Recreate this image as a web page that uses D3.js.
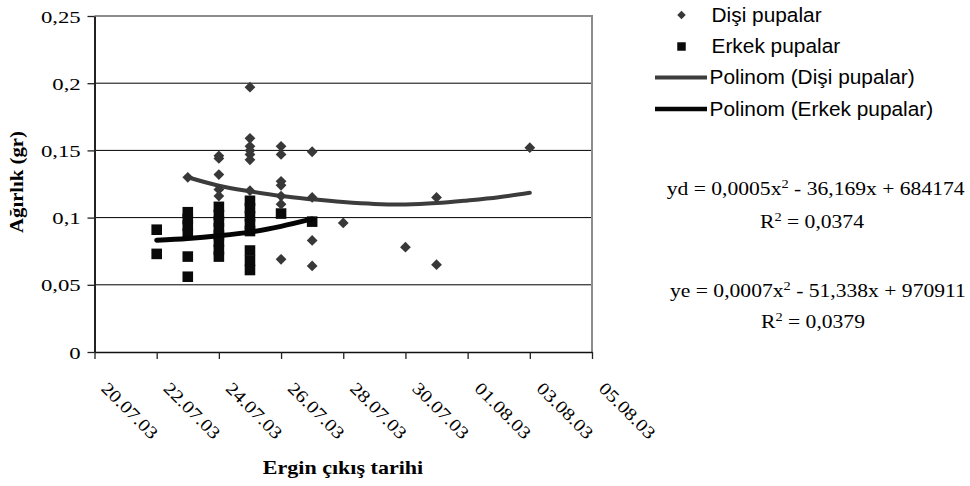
<!DOCTYPE html>
<html><head><meta charset="utf-8">
<script src="https://cdn.jsdelivr.net/npm/d3@7"></script>
<style>body{margin:0;background:#fff}svg{display:block}</style>
</head><body>
<script>
// ---------- data ----------
const xTickDates = ["2003-07-20","2003-07-22","2003-07-24","2003-07-26","2003-07-28","2003-07-30","2003-08-01","2003-08-03","2003-08-05"];
const yTicks = [0, 0.05, 0.1, 0.15, 0.2, 0.25];

const disiDates = [
  "2003-07-23",
  "2003-07-24","2003-07-24","2003-07-24","2003-07-24","2003-07-24",
  "2003-07-25","2003-07-25","2003-07-25","2003-07-25","2003-07-25","2003-07-25","2003-07-25",
  "2003-07-26","2003-07-26","2003-07-26","2003-07-26","2003-07-26","2003-07-26","2003-07-26",
  "2003-07-27","2003-07-27","2003-07-27","2003-07-27",
  "2003-07-28","2003-07-30","2003-07-31","2003-07-31","2003-08-03"];
const disiValues = [
  0.130,
  0.146, 0.144, 0.132, 0.121, 0.116,
  0.197, 0.159, 0.153, 0.150, 0.147, 0.143, 0.120,
  0.153, 0.147, 0.127, 0.124, 0.116, 0.110, 0.069,
  0.149, 0.115, 0.083, 0.064,
  0.096, 0.078, 0.115, 0.065, 0.152];

const erkekDates = [
  "2003-07-22","2003-07-22",
  "2003-07-23","2003-07-23","2003-07-23","2003-07-23","2003-07-23","2003-07-23",
  "2003-07-24","2003-07-24","2003-07-24","2003-07-24","2003-07-24","2003-07-24","2003-07-24","2003-07-24",
  "2003-07-25","2003-07-25","2003-07-25","2003-07-25","2003-07-25","2003-07-25","2003-07-25","2003-07-25",
  "2003-07-26","2003-07-27"];
const erkekValues = [
  0.091, 0.073,
  0.104, 0.099, 0.094, 0.088, 0.071, 0.056,
  0.108, 0.102, 0.097, 0.092, 0.087, 0.082, 0.076, 0.071,
  0.1125, 0.107, 0.101, 0.095, 0.090, 0.0755, 0.068, 0.061,
  0.103, 0.097];

const disiTrendDates = ["2003-07-23","2003-07-24","2003-07-25","2003-07-26","2003-07-27","2003-07-28","2003-07-29","2003-07-30","2003-07-31","2003-08-01","2003-08-02","2003-08-03"];
const disiTrendValues = [0.130, 0.1237, 0.1195, 0.1160, 0.1136, 0.1116, 0.1102, 0.1098, 0.1108, 0.1128, 0.1152, 0.1185];
const erkekTrendDates = ["2003-07-22","2003-07-23","2003-07-24","2003-07-25","2003-07-26","2003-07-27"];
const erkekTrendValues = [0.0832, 0.0845, 0.0865, 0.0892, 0.0935, 0.0990];

const legendLabels = ["Dişi pupalar", "Erkek pupalar", "Polinom (Dişi pupalar)", "Polinom (Erkek pupalar)"];
const eqDisi = ["yd = 0,0005x", "2", " - 36,169x + 684174"];
const eqErkek = ["ye = 0,0007x", "2", " - 51,338x + 970911"];
const r2Disi = "0,0374";
const r2Erkek = "0,0379";
const xTitle = "Ergin çıkış tarihi";
const yTitle = "Ağırlık (gr)";

// ---------- chart ----------
const W = 970, H = 486;
const plot = {left: 94.5, right: 592, top: 16, bottom: 352};
const parse = d3.utcParse("%Y-%m-%d");
const serif = "'Liberation Serif','Times New Roman',serif";
const sans = "'Liberation Sans',Arial,sans-serif";

const svg = d3.select("body").append("svg").attr("width", W).attr("height", H);

const x = d3.scaleUtc()
  .domain([parse(xTickDates[0]), parse(xTickDates[xTickDates.length - 1])])
  .range([plot.left, plot.right]);
const y = d3.scaleLinear().domain([0, 0.25]).range([plot.bottom, plot.top]);

// gridlines
svg.append("g").selectAll("line").data(yTicks.filter(d => d > 0 && d < 0.25)).join("line")
  .attr("x1", plot.left).attr("x2", plot.right)
  .attr("y1", d => y(d)).attr("y2", d => y(d))
  .attr("stroke", "#000").attr("stroke-width", 1);

// plot border (top / right)
svg.append("path")
  .attr("d", `M${plot.left},${plot.top}H${plot.right}V${plot.bottom}`)
  .attr("fill", "none").attr("stroke", "#8c8c8c").attr("stroke-width", 2);

// axes
const locale = d3.formatLocale({decimal: ",", thousands: ".", grouping: [3], currency: ["", ""]});
const yFmt = locale.format(".2~f");
const yAxis = svg.append("g").attr("transform", `translate(${plot.left},0)`)
  .call(d3.axisLeft(y).tickValues(yTicks).tickFormat(yFmt).tickSize(7).tickSizeOuter(0));
yAxis.select(".domain").attr("stroke", "#222").attr("stroke-width", 2);
yAxis.selectAll(".tick line").attr("stroke", "#222").attr("stroke-width", 1.3);
yAxis.selectAll(".tick text")
  .attr("x", null).attr("dy", null)
  .attr("transform", "translate(-13.8,6) scale(1.3,1)")
  .attr("font-family", serif).attr("font-size", 17.5).attr("fill", "#000")
  .attr("text-anchor", "end");

const xFmt = d3.utcFormat("%d.%m.%y");
const xAxis = svg.append("g").attr("transform", `translate(0,${plot.bottom})`)
  .call(d3.axisBottom(x).tickValues(xTickDates.map(parse)).tickFormat(xFmt).tickSize(7).tickSizeOuter(0));
xAxis.select(".domain").attr("stroke", "#111").attr("stroke-width", 1.6);
xAxis.selectAll(".tick line").attr("stroke", "#222").attr("stroke-width", 1.3);
xAxis.selectAll(".tick text")
  .attr("y", null).attr("dy", null)
  .attr("transform", "translate(5.3,37.5) rotate(45) scale(1.17,1)")
  .attr("font-family", serif).attr("font-size", 17.5).attr("fill", "#000")
  .attr("text-anchor", "start");

// trend lines
const line = d3.line().curve(d3.curveCatmullRom.alpha(0.5)).x(d => x(d[0])).y(d => y(d[1]));
svg.append("path")
  .datum(disiTrendDates.map((d, i) => [parse(d), disiTrendValues[i]]))
  .attr("d", line).attr("fill", "none").attr("stroke", "#3c3c3c").attr("stroke-width", 4)
  .attr("stroke-linecap", "round");

// points
const sqSym = d3.symbol().type(d3.symbolSquare);
svg.append("g").selectAll("path").data(erkekDates.map((d, i) => [parse(d), erkekValues[i]])).join("path")
  .attr("d", sqSym.size(112)())
  .attr("transform", d => `translate(${x(d[0])},${y(d[1])})`)
  .attr("fill", "#0a0a0a");

svg.append("path")
  .datum(erkekTrendDates.map((d, i) => [parse(d), erkekTrendValues[i]]))
  .attr("d", line).attr("fill", "none").attr("stroke", "#050505").attr("stroke-width", 5)
  .attr("stroke-linecap", "round");

svg.append("g").selectAll("path").data(disiDates.map((d, i) => [parse(d), disiValues[i]])).join("path")
  .attr("d", d3.symbol().type(d3.symbolSquare).size(58)())
  .attr("transform", d => `translate(${x(d[0])},${y(d[1])}) rotate(45)`)
  .attr("fill", "#383838");

// axis titles
svg.append("text")
  .attr("transform", "translate(343,473.5) scale(1.16,1)")
  .attr("text-anchor", "middle").attr("font-family", serif).attr("font-weight", "bold")
  .attr("font-size", 19).text(xTitle);
svg.append("text")
  .attr("transform", "translate(23,182) rotate(-90) scale(1.12,1)")
  .attr("text-anchor", "middle").attr("font-family", serif).attr("font-weight", "bold")
  .attr("font-size", 18.5).text(yTitle);

// legend
const lg = svg.append("g");
const legY = [15, 46.5, 77.5, 109];
lg.append("path").attr("d", d3.symbol().type(d3.symbolSquare).size(36)())
  .attr("transform", `translate(681.5,${legY[0]}) rotate(45)`).attr("fill", "#383838");
lg.append("path").attr("d", d3.symbol().type(d3.symbolSquare).size(72)())
  .attr("transform", `translate(681.5,${legY[1]})`).attr("fill", "#0a0a0a");
lg.append("line").attr("x1", 655).attr("x2", 707).attr("y1", legY[2]).attr("y2", legY[2])
  .attr("stroke", "#3c3c3c").attr("stroke-width", 4);
lg.append("line").attr("x1", 655).attr("x2", 707).attr("y1", legY[3]).attr("y2", legY[3])
  .attr("stroke", "#050505").attr("stroke-width", 4.5);
lg.selectAll("text").data(legendLabels).join("text")
  .attr("transform", (d, i) => `translate(${i < 2 ? 711.5 : 709.5},${legY[i] + 6.5}) scale(1.07,1)`)
  .attr("font-family", sans).attr("font-size", 19.5).attr("fill", "#000").text(d => d);

// equations
function equation(xp, yp, parts) {
  const t = svg.append("text").attr("transform", `translate(${xp},${yp}) scale(1.2,1)`)
    .attr("font-family", serif).attr("font-size", 18).attr("fill", "#000");
  t.append("tspan").text(parts[0]);
  t.append("tspan").attr("dy", -7).attr("font-size", 12).text(parts[1]);
  t.append("tspan").attr("dy", 7).text(parts[2]);
}
equation(666.7, 195, eqDisi);
equation(760, 228.3, ["R", "2", " = " + r2Disi]);
equation(670, 296.5, eqErkek);
equation(761, 327.5, ["R", "2", " = " + r2Erkek]);
</script>
</body></html>
